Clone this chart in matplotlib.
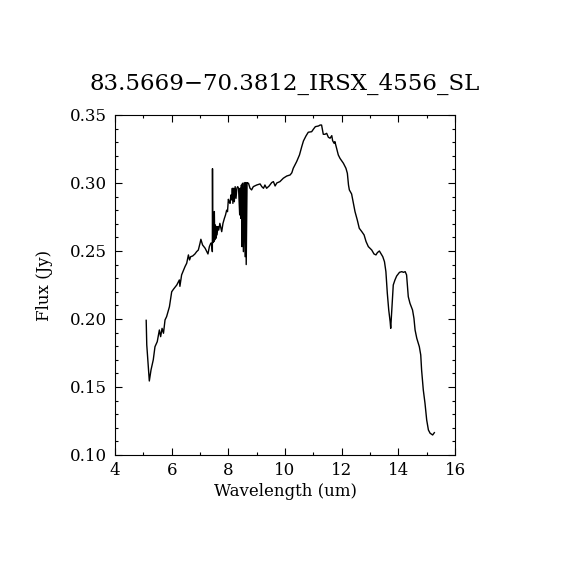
import numpy as np
import matplotlib
matplotlib.use('Agg')
import matplotlib.pyplot as plt
from matplotlib.ticker import MultipleLocator

# spectrum
wave = [5.10, 5.12, 5.21, 5.27, 5.35, 5.41, 5.49, 5.565, 5.61, 5.66, 5.71, 5.765, 5.82, 5.92,
        6.00, 6.06, 6.18, 6.24, 6.27, 6.29, 6.35, 6.47, 6.53, 6.59, 6.63, 6.67, 6.74, 6.82,
        6.88, 6.94, 7.00, 7.03, 7.09, 7.18, 7.24, 7.28, 7.33, 7.38, 7.41, 7.435, 7.44, 7.45,
        7.47, 7.49, 7.505, 7.52, 7.54, 7.56, 7.58, 7.60, 7.63, 7.66, 7.70, 7.765, 7.81, 7.86,
        7.90, 7.94, 7.97, 8.00, 8.03, 8.06, 8.09, 8.12, 8.14, 8.16, 8.19, 8.21, 8.24, 8.27,
        8.30, 8.33, 8.36, 8.40, 8.42, 8.44, 8.46, 8.48, 8.50, 8.53, 8.56, 8.59, 8.61, 8.63,
        8.66, 8.69, 8.71, 8.765, 8.82, 8.88, 9.00, 9.12, 9.18, 9.24, 9.29, 9.35, 9.44, 9.53,
        9.59, 9.65, 9.71, 9.82, 9.94, 10.06, 10.18, 10.24, 10.29, 10.41, 10.51, 10.59, 10.65,
        10.74, 10.82, 10.94, 11.00, 11.07, 11.18, 11.24, 11.29, 11.35, 11.41, 11.47, 11.53,
        11.59, 11.65, 11.68, 11.73, 11.76, 11.82, 11.88, 11.94, 12.06, 12.15, 12.20, 12.24,
        12.27, 12.35, 12.39, 12.47, 12.55, 12.62, 12.71, 12.79, 12.86, 12.94, 13.06, 13.14,
        13.21, 13.26, 13.33, 13.38, 13.45, 13.51, 13.56, 13.61, 13.66, 13.71, 13.73, 13.76,
        13.82, 13.88, 13.94, 14.04, 14.12, 14.18, 14.24, 14.29, 14.35, 14.41, 14.50, 14.55,
        14.59, 14.65, 14.74, 14.79, 14.82, 14.88, 14.94, 15.00, 15.06, 15.12, 15.21, 15.27]
flux = [0.199, 0.181, 0.1544, 0.1625, 0.170, 0.1796, 0.1833, 0.1919, 0.187, 0.1931, 0.1895,
        0.1993, 0.2017, 0.209, 0.220, 0.2218, 0.225, 0.2275, 0.2287, 0.224, 0.2324, 0.2385,
        0.241, 0.2471, 0.2434, 0.2458, 0.2463, 0.2478, 0.2495, 0.2507, 0.2557, 0.2586, 0.2544,
        0.252, 0.2495, 0.2478, 0.2532, 0.2557, 0.2557, 0.2495, 0.3105, 0.256, 0.268, 0.2569,
        0.279, 0.2581, 0.2691, 0.2593, 0.268, 0.2618, 0.2679, 0.2654, 0.2703, 0.2642, 0.2703,
        0.274, 0.2765, 0.280, 0.2789, 0.288, 0.2862, 0.285, 0.2912, 0.2875, 0.2961, 0.285,
        0.2961, 0.2862, 0.2973, 0.2887, 0.2961, 0.2973, 0.2961, 0.2765, 0.2961, 0.274, 0.2985,
        0.2532, 0.2998, 0.2495, 0.3003, 0.2458, 0.3003, 0.2400, 0.3003, 0.2998, 0.2998, 0.2961,
        0.2949, 0.2973, 0.2985, 0.2993, 0.2973, 0.2961, 0.2985, 0.2961, 0.2978, 0.3003, 0.301,
        0.2978, 0.300, 0.301, 0.3035, 0.3051, 0.3059, 0.3075, 0.3108, 0.3157, 0.3206, 0.3267,
        0.3309, 0.3346, 0.3373, 0.3377, 0.3395, 0.3414, 0.3419, 0.3426, 0.3426, 0.3358, 0.3358,
        0.3365, 0.3336, 0.3329, 0.3348, 0.3311, 0.3292, 0.3304, 0.3255, 0.3206, 0.3181, 0.3145,
        0.3108, 0.3071, 0.2985, 0.2949, 0.2919, 0.2875, 0.2789, 0.2728, 0.2667, 0.2642, 0.2618,
        0.2569, 0.2532, 0.2507, 0.2478, 0.2471, 0.2488, 0.250, 0.2483, 0.2458, 0.2421, 0.2348,
        0.2189, 0.2066, 0.198, 0.1931, 0.2042, 0.225, 0.2287, 0.2316, 0.2343, 0.2348, 0.2343,
        0.2348, 0.2324, 0.2164, 0.2115, 0.2066, 0.2005, 0.1919, 0.1858, 0.1796, 0.1735, 0.1625,
        0.1478, 0.138, 0.1257, 0.1184, 0.116, 0.1147, 0.1164]

title = '83.5669\u221270.3812_IRSX_4556_SL'

plt.rcParams['font.family'] = 'DejaVu Serif'

fig = plt.figure(figsize=(5.7, 5.7), dpi=100)
ax = fig.add_axes([0.2018, 0.2018, 0.5965, 0.5965])
ax.plot(wave, flux, color='black', lw=1.0)

ax.set_xlim(4, 16)
ax.set_ylim(0.10, 0.35)
ax.xaxis.set_major_locator(MultipleLocator(2))
ax.xaxis.set_minor_locator(MultipleLocator(1))
ax.yaxis.set_major_locator(MultipleLocator(0.05))
ax.yaxis.set_minor_locator(MultipleLocator(0.01))
ax.tick_params(which='both', direction='in', top=True, right=True, labelsize=12, width=0.8)
ax.tick_params(which='major', length=5)
ax.tick_params(which='minor', length=2.5)
ax.tick_params(axis='y', pad=6)
ax.tick_params(axis='x', pad=5)
ax.yaxis.set_major_formatter(matplotlib.ticker.FormatStrFormatter('%.2f'))
for s in ax.spines.values():
    s.set_linewidth(0.8)

ax.set_xlabel('Wavelength (um)', fontsize=12, labelpad=3)
ax.set_ylabel('Flux (Jy)', fontsize=12, labelpad=12)
ax.set_title(title, fontsize=16.5, pad=18)

fig.savefig('out.png', dpi=100, facecolor='white')
